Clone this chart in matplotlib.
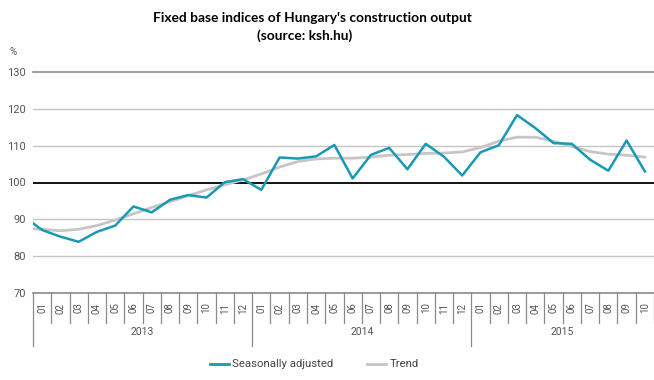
import numpy as np
import matplotlib.pyplot as plt
import matplotlib.transforms as mtransforms

# ==========================================
# Data
# ==========================================

years = ["2013", "2014", "2015"]
months = ["01", "02", "03", "04", "05", "06", "07", "08", "09", "10", "11", "12",
          "01", "02", "03", "04", "05", "06", "07", "08", "09", "10", "11", "12",
          "01", "02", "03", "04", "05", "06", "07", "08", "09", "10"]

# seasonally adjusted index, 2013-01 .. 2015-10
seasonally_adjusted = [87.1, 85.3, 83.9, 86.6, 88.3, 93.5, 91.9, 95.3, 96.6, 95.9, 100.1, 100.9,
                       98.0, 106.8, 106.5, 107.1, 110.2, 101.1, 107.5, 109.4, 103.6, 110.5, 107.0, 101.9,
                       108.2, 110.1, 118.3, 114.8, 110.7, 110.5, 106.2, 103.2, 111.4, 103.0]
trend = [87.3, 86.9, 87.3, 88.3, 89.8, 91.5, 93.2, 94.8, 96.4, 98.0, 99.4, 100.7,
         102.3, 104.2, 105.7, 106.4, 106.6, 106.6, 106.9, 107.4, 107.6, 107.9, 108.0, 108.3,
         109.5, 111.2, 112.3, 112.3, 111.2, 109.8, 108.4, 107.7, 107.4, 106.9]
# previous month (2012-12), only the clipped lead-in segment is visible
prev_sa = 90.8
prev_trend = 87.5

BLUE = "#1899b4"
GREY = "#c6c6c6"
TXT = "#555555"

plt.rcParams['font.family'] = ['Roboto', 'DejaVu Sans']

fig = plt.figure(figsize=(6.54, 3.80), dpi=100)
ax = fig.add_axes([33 / 654, 87 / 380, 621 / 654, 221 / 380])

n = len(months)
x = np.arange(-1, n)
ax.plot(x, [prev_trend] + trend, color=GREY, lw=2.0, zorder=3)
ax.plot(x, [prev_sa] + seasonally_adjusted, color=BLUE, lw=1.8, zorder=4)

ax.set_xlim(-0.5, n - 0.5)
ax.set_ylim(70, 130)

# horizontal grid
for v in [80, 90, 110, 120]:
    ax.axhline(v, color="#c4c4c4", lw=1.0, zorder=1)
ax.axhline(100, color="black", lw=1.3, zorder=2)
ax.axhline(130, color="#8a8a8a", lw=1.2, zorder=2, clip_on=False)
ax.axhline(70, color="#8a8a8a", lw=1.2, zorder=2, clip_on=False)

for s in ax.spines.values():
    s.set_visible(False)

ax.set_yticks([70, 80, 90, 100, 110, 120, 130])
ax.tick_params(axis="y", length=0, pad=5, labelsize=8, labelcolor=TXT)
ax.set_xticks([])

# category axis: month ticks, month labels, year separators and labels
trans = mtransforms.blended_transform_factory(ax.transData, ax.transAxes)
for i in range(n + 1):
    xb = i - 0.5
    ybot = -0.24 if (i % 12 == 0 and i < n) else -0.136
    ax.plot([xb, xb], [0, ybot], transform=trans, color="#8a8a8a", lw=0.9, clip_on=False)
for i, m in enumerate(months):
    ax.text(i, -0.068, m, transform=trans, rotation=90, ha="center", va="center",
            fontsize=7, color=TXT)
for k, yr in enumerate(years):
    last = min(12 * (k + 1), n)
    ax.text((12 * k + last - 1) / 2, -0.176, yr, transform=trans, ha="center", va="center",
            fontsize=7.5, color=TXT)

fig.text(10 / 654, 1 - 52 / 380, "%", fontsize=7, color=TXT, va="center")

fig.text(312 / 654, 1 - 18 / 380, "Fixed base indices of Hungary's construction output",
         ha="center", va="center", fontsize=9.9, fontweight="bold", family="Lato")
fig.text(305 / 654, 1 - 36 / 380, "(source: ksh.hu)",
         ha="center", va="center", fontsize=9.9, fontweight="bold", family="Lato")

# legend
ly = 1 - 364 / 380
fig.add_artist(plt.Line2D([210 / 654, 229 / 654], [ly, ly], color=BLUE, lw=2))
fig.text(232 / 654, ly, "Seasonally adjusted", fontsize=8.2, color="#444444", va="center")
fig.add_artist(plt.Line2D([367 / 654, 386 / 654], [ly, ly], color=GREY, lw=2))
fig.text(390 / 654, ly, "Trend", fontsize=8.2, color="#444444", va="center")

fig.savefig("out.png", dpi=100)
